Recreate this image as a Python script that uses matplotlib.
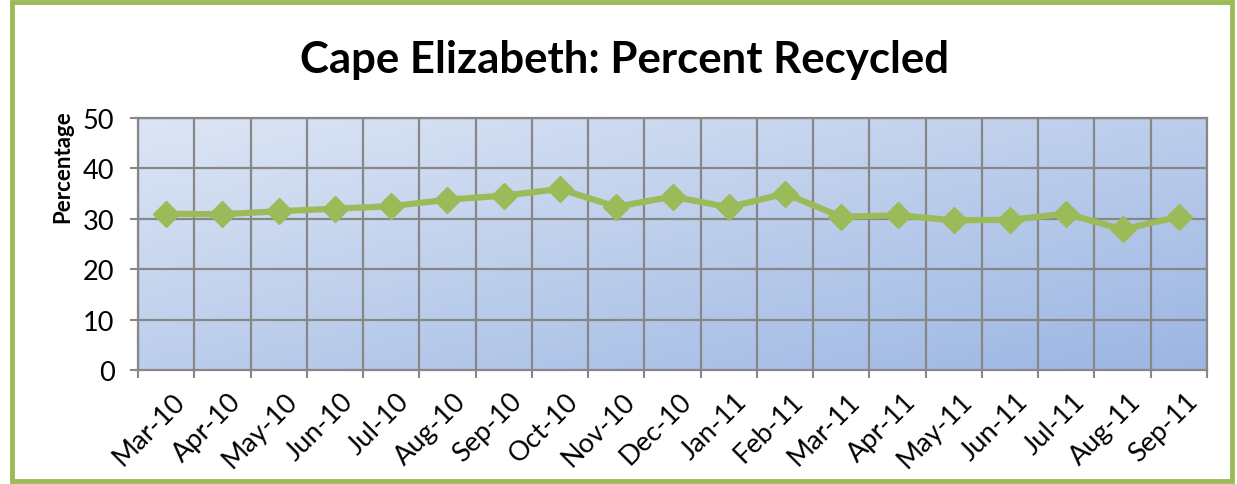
import numpy as np
import matplotlib.pyplot as plt
from matplotlib.colors import LinearSegmentedColormap
from matplotlib.patches import Rectangle

plt.rcParams['font.family'] = ['Lato', 'DejaVu Sans']

months = ['Mar-10', 'Apr-10', 'May-10', 'Jun-10', 'Jul-10', 'Aug-10', 'Sep-10',
          'Oct-10', 'Nov-10', 'Dec-10', 'Jan-11', 'Feb-11', 'Mar-11', 'Apr-11',
          'May-11', 'Jun-11', 'Jul-11', 'Aug-11', 'Sep-11']
pct_recycled = [31.0, 30.9, 31.5, 32.0, 32.5, 33.8, 34.6, 35.9, 32.4, 34.4,
                32.3, 35.0, 30.4, 30.7, 29.7, 29.8, 31.0, 27.9, 30.4]

fig = plt.figure(figsize=(12.37, 4.85), dpi=100)
ax = fig.add_axes([138 / 1237, 1 - 371 / 485, (1207 - 138) / 1237, (371 - 119) / 485])

# outer green frame
fig.patches.append(Rectangle((12 / 1237, 3 / 485), 1220 / 1237, 479 / 485,
                             transform=fig.transFigure, fill=False,
                             edgecolor='#9bbb59', linewidth=3.5))

n = len(months)
x = np.arange(n)

# diagonal gradient fill of plot area
gx, gy = np.meshgrid(np.linspace(0, 1, 200), np.linspace(0, 1, 100))
grad = (gx + gy) / 2
cmap = LinearSegmentedColormap.from_list('bg', ['#dce5f4', '#9cb6e3'])
ax.imshow(grad, cmap=cmap, extent=[-0.5, n - 0.5, 0, 50], aspect='auto',
          origin='upper', zorder=0, interpolation='bilinear')

ax.set_xlim(-0.5, n - 0.5)
ax.set_ylim(0, 50)

# grid between categories
for b in np.arange(-0.5, n, 1.0):
    ax.axvline(b, color='#878787', lw=1.6, zorder=1)
for yv in range(10, 51, 10):
    ax.axhline(yv, color='#878787', lw=1.6, zorder=1)

ax.plot(x, pct_recycled, color='#9bbb59', lw=4.5, marker='D', markersize=13,
        zorder=3, clip_on=False)

ax.set_yticks(range(0, 51, 10))
ax.tick_params(axis='y', labelsize=19.5, length=6, width=1.5, color='#878787', pad=11)
ax.set_xticks(np.arange(-0.5, n, 1.0), minor=False)
ax.set_xticklabels([])
ax.tick_params(axis='x', length=6, width=1.5, color='#878787')
for i, m in enumerate(months):
    ax.annotate(m, xy=(i, 0), xycoords='data', xytext=(4, -13),
                textcoords='offset points', rotation=45, ha='right', va='top',
                rotation_mode='anchor', fontsize=19.5)

for s in ax.spines.values():
    s.set_color('#878787')
    s.set_linewidth(1.6)

fig.text(63 / 1237, 1 - 167 / 485, 'Percentage', rotation=90, ha='center',
         va='center', fontsize=16, fontweight='bold')
fig.text(624 / 1237, 1 - 60 / 485, 'Cape Elizabeth: Percent Recycled',
         ha='center', va='center', fontsize=31.5, fontweight='bold')

fig.savefig('out.png', dpi=100)
